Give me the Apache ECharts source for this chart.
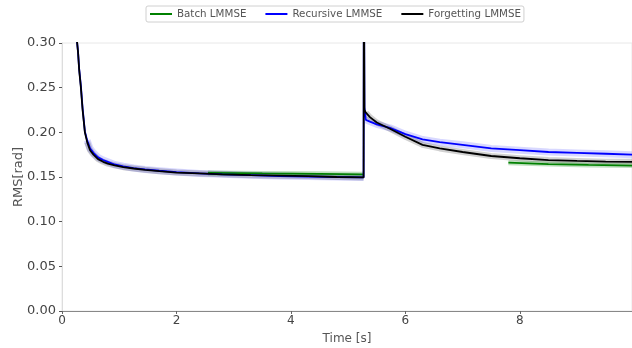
<!DOCTYPE html>
<html>
<head>
<meta charset="utf-8">
<title>RMS</title>
<script src="https://cdn.jsdelivr.net/npm/echarts@6/dist/echarts.min.js"></script>
<style>
  html, body { margin: 0; padding: 0; background: #fff; }
  #chart { width: 632px; height: 348px; }
</style>
</head>
<body>
<div id="chart"></div>
<script>
// first run (before the change at ~5.27 s)
const timeA = [0.25, 0.28, 0.30, 0.33, 0.36, 0.40, 0.44, 0.49, 0.55, 0.63, 0.72, 0.80, 0.92, 1.07, 1.25, 1.45, 1.70, 2.00, 2.40, 2.80, 3.30, 3.80, 4.30, 4.80, 5.27];
const forgettingA = [0.31, 0.29, 0.27, 0.25, 0.225, 0.20, 0.189, 0.180, 0.175, 0.170, 0.167, 0.165, 0.163, 0.161, 0.1595, 0.158, 0.1565, 0.155, 0.154, 0.153, 0.152, 0.1515, 0.151, 0.150, 0.1495];
const recursiveA = [0.31, 0.29, 0.271, 0.252, 0.227, 0.201, 0.191, 0.182, 0.177, 0.172, 0.169, 0.167, 0.164, 0.162, 0.160, 0.1585, 0.157, 0.1555, 0.154, 0.153, 0.152, 0.151, 0.1505, 0.150, 0.1495];

// the jump
const jumpTime = 5.275;
const jumpValue = 0.40;

// second run
const timeB = [5.285, 5.31, 5.38, 5.50, 5.73, 6.00, 6.30, 6.60, 7.00, 7.50, 8.00, 8.50, 9.00, 9.50, 9.96];
const forgettingB = [0.225, 0.222, 0.217, 0.211, 0.204, 0.195, 0.186, 0.182, 0.178, 0.1735, 0.171, 0.169, 0.168, 0.1672, 0.167];
const recursiveB = [0.228, 0.214, 0.212, 0.209, 0.205, 0.198, 0.192, 0.189, 0.186, 0.182, 0.180, 0.178, 0.177, 0.176, 0.175];

// batch estimate, only visible where it is not under the other two
const batchTimeA = [2.55, 3.50, 4.50, 5.26];
const batchA = [0.1545, 0.154, 0.1535, 0.153];
const batchTimeB = [7.80, 8.50, 9.20, 9.96];
const batchB = [0.166, 0.1645, 0.1635, 0.1628];

const xTicks = [0, 2, 4, 6, 8];
const yTicks = [0, 0.05, 0.1, 0.15, 0.2, 0.25, 0.3];

function zip(t, v) {
  return t.map((x, i) => [x, v[i]]);
}

const forgetting = zip(timeA, forgettingA).concat([[jumpTime, jumpValue]], zip(timeB, forgettingB));
const recursive = zip(timeA, recursiveA).concat([[jumpTime, jumpValue]], zip(timeB, recursiveB));
const batch = zip(batchTimeA, batchA).concat([[6.5, null]], zip(batchTimeB, batchB));

// noise bands: no band on the steep start or on the jump
const forgettingBand = zip(timeA.slice(6), forgettingA.slice(6)).concat([[jumpTime, null]], zip(timeB.slice(1), forgettingB.slice(1)));
const recursiveBand = zip(timeA.slice(6), recursiveA.slice(6)).concat([[jumpTime, null]], zip(timeB.slice(1), recursiveB.slice(1)));

const font = 'DejaVu Sans';

function band(name, data, color, width) {
  return {
    name: name,
    type: 'line',
    data: data,
    symbol: 'none',
    silent: true,
    connectNulls: false,
    lineStyle: { color: color, width: width, join: 'round' },
    itemStyle: { color: color },
    z: 1,
  };
}

function mainLine(name, data, color) {
  return {
    name: name,
    type: 'line',
    data: data,
    symbol: 'none',
    connectNulls: false,
    lineStyle: { color: color, width: 1.8 },
    itemStyle: { color: color },
    z: 3,
  };
}

const chart = echarts.init(document.getElementById('chart'));
chart.setOption({
  animation: false,
  backgroundColor: '#fff',
  grid: {
    left: 62,
    right: 0,
    top: 43,
    bottom: 37,
    outerBoundsMode: 'none',
    containLabel: false,
    show: true,
    borderColor: '#e8e8e8',
    borderWidth: 1,
  },
  legend: {
    data: ['Batch LMMSE', 'Recursive LMMSE', 'Forgetting LMMSE'],
    left: 146,
    top: 6,
    padding: [3, 3, 3, 4],
    itemGap: 19,
    itemWidth: 22,
    itemHeight: 2,
    icon: 'rect',
    borderColor: '#d0d0d0',
    borderWidth: 1,
    borderRadius: 2,
    textStyle: { fontFamily: font, fontSize: 10.3, color: '#555' },
  },
  xAxis: {
    type: 'value',
    min: 0,
    max: 9.96,
    interval: 2,
    name: 'Time [s]',
    nameLocation: 'middle',
    nameGap: 22,
    nameTextStyle: { fontFamily: font, fontSize: 12, color: '#555' },
    axisLine: { show: true, lineStyle: { color: '#888', width: 1 } },
    axisTick: { show: true, length: 3, lineStyle: { color: '#666' } },
    axisLabel: {
      fontFamily: font,
      fontSize: 12,
      color: '#444',
      margin: 4,
      showMaxLabel: false,
      formatter: v => (xTicks.indexOf(Math.round(v * 100) / 100) >= 0 ? String(v) : ''),
    },
    splitLine: { show: false },
  },
  yAxis: {
    type: 'value',
    min: 0,
    max: 0.3,
    interval: 0.05,
    name: 'RMS[rad]',
    nameLocation: 'middle',
    nameGap: 37,
    nameMoveOverlap: false,
    nameTextStyle: { fontFamily: font, fontSize: 13, color: '#555' },
    axisLine: { show: true, lineStyle: { color: '#ddd', width: 1 } },
    axisTick: { show: true, length: 3, lineStyle: { color: '#555' } },
    axisLabel: {
      fontFamily: font,
      fontSize: 13,
      color: '#444',
      margin: 6,
      formatter: v => yTicks.some(t => Math.abs(t - v) < 1e-9) ? v.toFixed(2) : '',
    },
    splitLine: { show: false },
  },
  series: [
    band('_rband', recursiveBand, 'rgba(40,40,255,0.18)', 7),
    band('_fband', forgettingBand, 'rgba(0,0,0,0.18)', 6),
    band('_bband', batch, 'rgba(0,128,0,0.25)', 5),
    mainLine('Batch LMMSE', batch, '#008000'),
    mainLine('Recursive LMMSE', recursive, '#0000ff'),
    mainLine('Forgetting LMMSE', forgetting, '#000000'),
  ],
});
</script>
</body>
</html>
